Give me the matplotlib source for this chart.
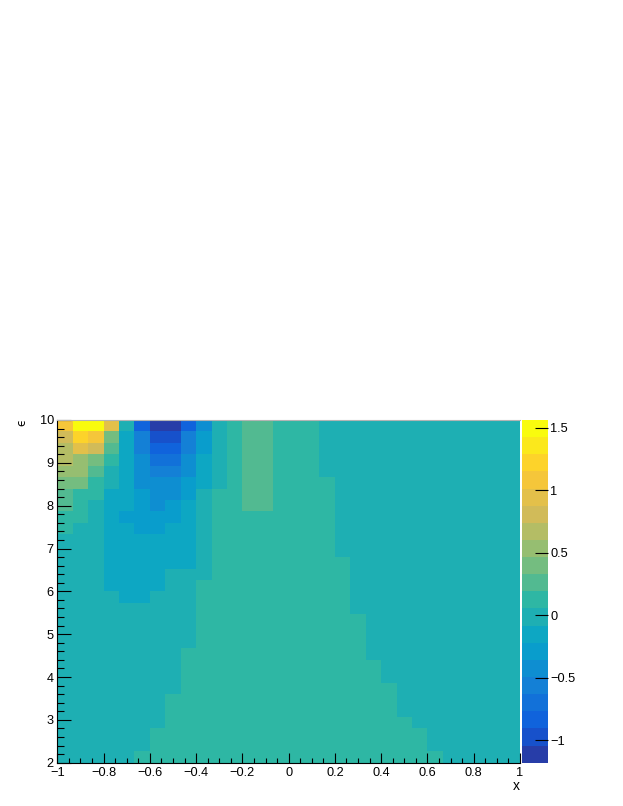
import numpy as np
import matplotlib
matplotlib.use("Agg")
import matplotlib.pyplot as plt
from matplotlib.colors import LinearSegmentedColormap, ListedColormap, Normalize
from matplotlib.ticker import FixedLocator, MultipleLocator, FuncFormatter

# ---------------- data ----------------
X_RANGE = (-1.0, 1.0)
Y_RANGE = (2.0, 10.0)
N_XBINS = 30
N_YBINS = 30

# bin contents, top row (y = 10) first, left column (x = -1) first
Z_TOP_DOWN = [
    [1.08, 1.56, 1.49, 0.94, -0.02, -0.84, -1.18, -1.11, -0.84, -0.43, -0.02, 0.12, 0.26, 0.26, 0.12, 0.12, 0.12,
     -0.02, -0.02, -0.02, -0.02, -0.02, -0.02, -0.02, -0.02, -0.02, -0.02, -0.02, -0.02, -0.02],
    [0.81, 1.22, 1.08, 0.40, -0.15, -0.56, -0.97, -0.97, -0.56, -0.29, -0.02, 0.12, 0.26, 0.26, 0.12, 0.12, 0.12,
     -0.02, -0.02, -0.02, -0.02, -0.02, -0.02, -0.02, -0.02, -0.02, -0.02, -0.02, -0.02, -0.02],
    [0.67, 0.94, 0.81, 0.26, -0.15, -0.56, -0.84, -0.84, -0.56, -0.29, -0.02, 0.12, 0.26, 0.26, 0.12, 0.12, 0.12,
     -0.02, -0.02, -0.02, -0.02, -0.02, -0.02, -0.02, -0.02, -0.02, -0.02, -0.02, -0.02, -0.02],
    [0.67, 0.53, 0.40, 0.12, -0.15, -0.43, -0.70, -0.70, -0.43, -0.15, -0.02, 0.12, 0.26, 0.26, 0.12, 0.12, 0.12,
     -0.02, -0.02, -0.02, -0.02, -0.02, -0.02, -0.02, -0.02, -0.02, -0.02, -0.02, -0.02, -0.02],
    [0.53, 0.53, 0.26, -0.02, -0.15, -0.43, -0.56, -0.56, -0.43, -0.15, -0.02, 0.12, 0.26, 0.26, 0.12, 0.12, 0.12,
     -0.02, -0.02, -0.02, -0.02, -0.02, -0.02, -0.02, -0.02, -0.02, -0.02, -0.02, -0.02, -0.02],
    [0.40, 0.40, 0.12, -0.02, -0.15, -0.43, -0.43, -0.43, -0.29, -0.15, -0.02, 0.12, 0.26, 0.26, 0.12, 0.12, 0.12,
     0.12, -0.02, -0.02, -0.02, -0.02, -0.02, -0.02, -0.02, -0.02, -0.02, -0.02, -0.02, -0.02],
    [0.26, 0.12, 0.12, -0.15, -0.15, -0.29, -0.43, -0.43, -0.29, -0.02, 0.12, 0.12, 0.26, 0.26, 0.12, 0.12, 0.12,
     0.12, -0.02, -0.02, -0.02, -0.02, -0.02, -0.02, -0.02, -0.02, -0.02, -0.02, -0.02, -0.02],
    [0.26, 0.12, -0.02, -0.15, -0.15, -0.29, -0.43, -0.29, -0.15, -0.02, 0.12, 0.12, 0.26, 0.26, 0.12, 0.12, 0.12,
     0.12, -0.02, -0.02, -0.02, -0.02, -0.02, -0.02, -0.02, -0.02, -0.02, -0.02, -0.02, -0.02],
    [0.12, 0.12, -0.02, -0.15, -0.29, -0.29, -0.29, -0.29, -0.15, -0.02, 0.12, 0.12, 0.12, 0.12, 0.12, 0.12, 0.12,
     0.12, -0.02, -0.02, -0.02, -0.02, -0.02, -0.02, -0.02, -0.02, -0.02, -0.02, -0.02, -0.02],
    [0.12, -0.02, -0.02, -0.15, -0.15, -0.29, -0.29, -0.15, -0.15, -0.02, 0.12, 0.12, 0.12, 0.12, 0.12, 0.12, 0.12,
     0.12, -0.02, -0.02, -0.02, -0.02, -0.02, -0.02, -0.02, -0.02, -0.02, -0.02, -0.02, -0.02],
    [-0.02, -0.02, -0.02, -0.15, -0.15, -0.15, -0.15, -0.15, -0.15, -0.02, 0.12, 0.12, 0.12, 0.12, 0.12, 0.12, 0.12,
     0.12, -0.02, -0.02, -0.02, -0.02, -0.02, -0.02, -0.02, -0.02, -0.02, -0.02, -0.02, -0.02],
    [-0.02, -0.02, -0.02, -0.15, -0.15, -0.15, -0.15, -0.15, -0.15, -0.02, 0.12, 0.12, 0.12, 0.12, 0.12, 0.12, 0.12,
     0.12, -0.02, -0.02, -0.02, -0.02, -0.02, -0.02, -0.02, -0.02, -0.02, -0.02, -0.02, -0.02],
    [-0.02, -0.02, -0.02, -0.15, -0.15, -0.15, -0.15, -0.15, -0.15, -0.02, 0.12, 0.12, 0.12, 0.12, 0.12, 0.12, 0.12,
     0.12, 0.12, -0.02, -0.02, -0.02, -0.02, -0.02, -0.02, -0.02, -0.02, -0.02, -0.02, -0.02],
    [-0.02, -0.02, -0.02, -0.15, -0.15, -0.15, -0.15, -0.02, -0.02, -0.02, 0.12, 0.12, 0.12, 0.12, 0.12, 0.12, 0.12,
     0.12, 0.12, -0.02, -0.02, -0.02, -0.02, -0.02, -0.02, -0.02, -0.02, -0.02, -0.02, -0.02],
    [-0.02, -0.02, -0.02, -0.15, -0.15, -0.15, -0.15, -0.02, -0.02, 0.12, 0.12, 0.12, 0.12, 0.12, 0.12, 0.12, 0.12,
     0.12, 0.12, -0.02, -0.02, -0.02, -0.02, -0.02, -0.02, -0.02, -0.02, -0.02, -0.02, -0.02],
    [-0.02, -0.02, -0.02, -0.02, -0.15, -0.15, -0.02, -0.02, -0.02, 0.12, 0.12, 0.12, 0.12, 0.12, 0.12, 0.12, 0.12,
     0.12, 0.12, -0.02, -0.02, -0.02, -0.02, -0.02, -0.02, -0.02, -0.02, -0.02, -0.02, -0.02],
    [-0.02, -0.02, -0.02, -0.02, -0.02, -0.02, -0.02, -0.02, -0.02, 0.12, 0.12, 0.12, 0.12, 0.12, 0.12, 0.12, 0.12,
     0.12, 0.12, -0.02, -0.02, -0.02, -0.02, -0.02, -0.02, -0.02, -0.02, -0.02, -0.02, -0.02],
    [-0.02, -0.02, -0.02, -0.02, -0.02, -0.02, -0.02, -0.02, -0.02, 0.12, 0.12, 0.12, 0.12, 0.12, 0.12, 0.12, 0.12,
     0.12, 0.12, 0.12, -0.02, -0.02, -0.02, -0.02, -0.02, -0.02, -0.02, -0.02, -0.02, -0.02],
    [-0.02, -0.02, -0.02, -0.02, -0.02, -0.02, -0.02, -0.02, -0.02, 0.12, 0.12, 0.12, 0.12, 0.12, 0.12, 0.12, 0.12,
     0.12, 0.12, 0.12, -0.02, -0.02, -0.02, -0.02, -0.02, -0.02, -0.02, -0.02, -0.02, -0.02],
    [-0.02, -0.02, -0.02, -0.02, -0.02, -0.02, -0.02, -0.02, -0.02, 0.12, 0.12, 0.12, 0.12, 0.12, 0.12, 0.12, 0.12,
     0.12, 0.12, 0.12, -0.02, -0.02, -0.02, -0.02, -0.02, -0.02, -0.02, -0.02, -0.02, -0.02],
    [-0.02, -0.02, -0.02, -0.02, -0.02, -0.02, -0.02, -0.02, 0.12, 0.12, 0.12, 0.12, 0.12, 0.12, 0.12, 0.12, 0.12,
     0.12, 0.12, 0.12, -0.02, -0.02, -0.02, -0.02, -0.02, -0.02, -0.02, -0.02, -0.02, -0.02],
    [-0.02, -0.02, -0.02, -0.02, -0.02, -0.02, -0.02, -0.02, 0.12, 0.12, 0.12, 0.12, 0.12, 0.12, 0.12, 0.12, 0.12,
     0.12, 0.12, 0.12, 0.12, -0.02, -0.02, -0.02, -0.02, -0.02, -0.02, -0.02, -0.02, -0.02],
    [-0.02, -0.02, -0.02, -0.02, -0.02, -0.02, -0.02, -0.02, 0.12, 0.12, 0.12, 0.12, 0.12, 0.12, 0.12, 0.12, 0.12,
     0.12, 0.12, 0.12, 0.12, -0.02, -0.02, -0.02, -0.02, -0.02, -0.02, -0.02, -0.02, -0.02],
    [-0.02, -0.02, -0.02, -0.02, -0.02, -0.02, -0.02, -0.02, 0.12, 0.12, 0.12, 0.12, 0.12, 0.12, 0.12, 0.12, 0.12,
     0.12, 0.12, 0.12, 0.12, 0.12, -0.02, -0.02, -0.02, -0.02, -0.02, -0.02, -0.02, -0.02],
    [-0.02, -0.02, -0.02, -0.02, -0.02, -0.02, -0.02, 0.12, 0.12, 0.12, 0.12, 0.12, 0.12, 0.12, 0.12, 0.12, 0.12,
     0.12, 0.12, 0.12, 0.12, 0.12, -0.02, -0.02, -0.02, -0.02, -0.02, -0.02, -0.02, -0.02],
    [-0.02, -0.02, -0.02, -0.02, -0.02, -0.02, -0.02, 0.12, 0.12, 0.12, 0.12, 0.12, 0.12, 0.12, 0.12, 0.12, 0.12,
     0.12, 0.12, 0.12, 0.12, 0.12, -0.02, -0.02, -0.02, -0.02, -0.02, -0.02, -0.02, -0.02],
    [-0.02, -0.02, -0.02, -0.02, -0.02, -0.02, -0.02, 0.12, 0.12, 0.12, 0.12, 0.12, 0.12, 0.12, 0.12, 0.12, 0.12,
     0.12, 0.12, 0.12, 0.12, 0.12, 0.12, -0.02, -0.02, -0.02, -0.02, -0.02, -0.02, -0.02],
    [-0.02, -0.02, -0.02, -0.02, -0.02, -0.02, 0.12, 0.12, 0.12, 0.12, 0.12, 0.12, 0.12, 0.12, 0.12, 0.12, 0.12,
     0.12, 0.12, 0.12, 0.12, 0.12, 0.12, 0.12, -0.02, -0.02, -0.02, -0.02, -0.02, -0.02],
    [-0.02, -0.02, -0.02, -0.02, -0.02, -0.02, 0.12, 0.12, 0.12, 0.12, 0.12, 0.12, 0.12, 0.12, 0.12, 0.12, 0.12,
     0.12, 0.12, 0.12, 0.12, 0.12, 0.12, 0.12, -0.02, -0.02, -0.02, -0.02, -0.02, -0.02],
    [-0.02, -0.02, -0.02, -0.02, -0.02, 0.12, 0.12, 0.12, 0.12, 0.12, 0.12, 0.12, 0.12, 0.12, 0.12, 0.12, 0.12,
     0.12, 0.12, 0.12, 0.12, 0.12, 0.12, 0.12, 0.12, -0.02, -0.02, -0.02, -0.02, -0.02],
]

X_TICKS = [-1, -0.8, -0.6, -0.4, -0.2, 0, 0.2, 0.4, 0.6, 0.8, 1]
Y_TICKS = [2, 3, 4, 5, 6, 7, 8, 9, 10]
Z_TICKS = [-1, -0.5, 0, 0.5, 1, 1.5]
X_TITLE = "x"
Y_TITLE = "\u03f5"
N_CONTOURS = 20

# ROOT kBird palette definition
BIRD_STOPS = [0.0000, 0.1250, 0.2500, 0.3750, 0.5000, 0.6250, 0.7500, 0.8750, 1.0000]
BIRD_RED = [0.2082, 0.0592, 0.0780, 0.0232, 0.1802, 0.5301, 0.8186, 0.9956, 0.9764]
BIRD_GREEN = [0.1664, 0.3599, 0.5041, 0.6419, 0.7178, 0.7492, 0.7328, 0.7862, 0.9832]
BIRD_BLUE = [0.5293, 0.8684, 0.8385, 0.7914, 0.6425, 0.4662, 0.3499, 0.1968, 0.0539]

# ---------------- build ----------------
for row in Z_TOP_DOWN:
    if len(row) != N_XBINS:
        raise ValueError("bad row length %d" % len(row))
Z = np.array(Z_TOP_DOWN)[::-1]  # bottom row first

bird = LinearSegmentedColormap.from_list(
    "bird", list(zip(BIRD_STOPS, zip(BIRD_RED, BIRD_GREEN, BIRD_BLUE))), N=255)
ncol = 255
level_colors = []
for i in range(N_CONTOURS):
    idx = int((i + 0.99) * ncol / N_CONTOURS)
    level_colors.append(bird(min(idx, ncol - 1) / (ncol - 1)))
cmap = ListedColormap(level_colors)
norm = Normalize(vmin=Z.min(), vmax=Z.max())

plt.rcParams["font.family"] = ["Liberation Sans", "DejaVu Sans"]

W, H = 623, 806
fig = plt.figure(figsize=(W / 100, H / 100), dpi=100)

ax_l, ax_r = 57.3 / W, 520.0 / W
ax_t, ax_b = 420.0 / H, 762.7 / H
ax = fig.add_axes([ax_l, 1 - ax_b, ax_r - ax_l, ax_b - ax_t])

xe = np.linspace(X_RANGE[0], X_RANGE[1], N_XBINS + 1)
ye = np.linspace(Y_RANGE[0], Y_RANGE[1], N_YBINS + 1)
mesh = ax.pcolormesh(xe, ye, Z, cmap=cmap, norm=norm, shading="flat",
                     edgecolors="face", linewidth=0.0, antialiased=False)
ax.set_xlim(*X_RANGE)
ax.set_ylim(*Y_RANGE)

LABEL_SIZE = 9.2
fmt = FuncFormatter(lambda v, p: ("%g" % v).replace("-", "\u2212"))
ax.xaxis.set_major_locator(FixedLocator(X_TICKS))
ax.xaxis.set_minor_locator(MultipleLocator(0.05))
ax.yaxis.set_major_locator(FixedLocator(Y_TICKS))
ax.yaxis.set_minor_locator(MultipleLocator(0.2))
ax.xaxis.set_major_formatter(fmt)
ax.yaxis.set_major_formatter(fmt)

ax.tick_params(axis="x", which="major", direction="in", length=7.3, width=0.8,
               color="black", labelsize=LABEL_SIZE, pad=3.0, top=False)
ax.tick_params(axis="x", which="minor", direction="in", length=3.6, width=0.8,
               color="black", top=False)
ax.tick_params(axis="y", which="major", direction="in", length=10.0, width=0.8,
               color="black", labelsize=LABEL_SIZE, pad=2.5, right=False)
ax.tick_params(axis="y", which="minor", direction="in", length=5.0, width=0.8,
               color="black", right=False)

ax.spines["left"].set_color("black")
ax.spines["bottom"].set_color("black")
ax.spines["left"].set_linewidth(0.8)
ax.spines["bottom"].set_linewidth(0.8)
ax.spines["top"].set_color("#b4b4b4")
ax.spines["top"].set_linewidth(0.8)
ax.spines["right"].set_visible(False)

# palette axis
cb_l, cb_r = 522.3 / W, 548.3 / W
cax = fig.add_axes([cb_l, 1 - ax_b, cb_r - cb_l, ax_b - ax_t])
cb = fig.colorbar(mesh, cax=cax)
cb.outline.set_visible(False)
cb.set_ticks(Z_TICKS)
cb.ax.yaxis.set_major_formatter(fmt)
cb.ax.minorticks_off()
cb.ax.tick_params(which="major", direction="in", length=9.5, width=0.8,
                  color="black", labelsize=LABEL_SIZE, pad=1.5, right=True, left=False)

# axis titles
fig.text(519.5 / W, 1 - 786.5 / H, X_TITLE, ha="right", va="center", fontsize=10)
fig.text(21.5 / W, 1 - 418.5 / H, Y_TITLE, ha="center", va="top", rotation=90,
         fontsize=8.5, family=["DejaVu Sans"])

fig.savefig("out.png", dpi=100)
